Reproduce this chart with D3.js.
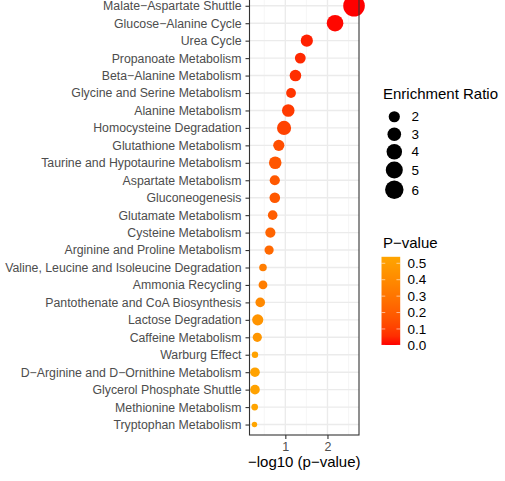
<!DOCTYPE html>
<html>
<head>
<meta charset="utf-8">
<script src="https://cdn.jsdelivr.net/npm/d3@7"></script>
<style>
  html, body { margin: 0; padding: 0; background: #ffffff; }
  svg { display: block; }
  text { font-family: "Liberation Sans", Arial, Helvetica, sans-serif; }
</style>
</head>
<body>
<svg id="chart" width="505" height="481"></svg>
<script>
// Pathway enrichment results, listed from most to least significant
const pathways = [
  "Malate\u2212Aspartate Shuttle",
  "Glucose\u2212Alanine Cycle",
  "Urea Cycle",
  "Propanoate Metabolism",
  "Beta\u2212Alanine Metabolism",
  "Glycine and Serine Metabolism",
  "Alanine Metabolism",
  "Homocysteine Degradation",
  "Glutathione Metabolism",
  "Taurine and Hypotaurine Metabolism",
  "Aspartate Metabolism",
  "Gluconeogenesis",
  "Glutamate Metabolism",
  "Cysteine Metabolism",
  "Arginine and Proline Metabolism",
  "Valine, Leucine and Isoleucine Degradation",
  "Ammonia Recycling",
  "Pantothenate and CoA Biosynthesis",
  "Lactose Degradation",
  "Caffeine Metabolism",
  "Warburg Effect",
  "D\u2212Arginine and D\u2212Ornithine Metabolism",
  "Glycerol Phosphate Shuttle",
  "Methionine Metabolism",
  "Tryptophan Metabolism"
];

// -log10(p-value) for each pathway
const negLog10P = [
  2.63, 2.18, 1.51, 1.355, 1.24, 1.135, 1.07, 0.97, 0.845, 0.76,
  0.75, 0.75, 0.70, 0.645, 0.615, 0.47, 0.47, 0.405, 0.345, 0.335,
  0.28, 0.28, 0.28, 0.273, 0.268
];

// Enrichment ratio for each pathway
const enrichment = [
  8.7, 4.7, 2.36, 1.87, 2.14, 1.59, 2.52, 3.25, 2.0, 2.52,
  1.69, 1.81, 1.54, 1.69, 1.44, 1.16, 1.36, 1.54, 2.0, 1.44,
  1.05, 1.54, 1.54, 1.07, 1.02
];

// Legend entries
const sizeBreaks = [2, 3, 4, 5, 6];
const pBreaks = [0.0, 0.1, 0.2, 0.3, 0.4, 0.5];
const xTicks = [1, 2];
const xMinorTicks = [0.5, 1.5, 2.5];

const rows = pathways.map((name, i) => ({
  name,
  x: negLog10P[i],
  p: Math.pow(10, -negLog10P[i]),
  er: enrichment[i]
}));

const svg = d3.select("#chart");
svg.append("rect").attr("width", 505).attr("height", 481).attr("fill", "#ffffff");

// Panel geometry
const panel = { left: 249.5, right: 359, top: -4.7, bottom: 435 };

// x scale with 5% expansion on each side
const xExt = d3.extent(rows, d => d.x);
const xPad = (xExt[1] - xExt[0]) * 0.05;
const x = d3.scaleLinear()
  .domain([xExt[0] - xPad, xExt[1] + xPad])
  .range([panel.left, panel.right]);

// discrete y scale, 0.6 step of padding at each end
const y = d3.scalePoint()
  .domain(pathways)
  .range([panel.top, panel.bottom])
  .padding(0.6);

// point radius: area grows with the enrichment ratio
const erMin = d3.min(rows, d => d.er), erMax = d3.max(rows, d => d.er);
const rLin = d3.scaleLinear()
  .domain([0, Math.sqrt(erMax - erMin)])
  .range([2.7, 10.8]);
const radius = v => rLin(Math.sqrt(Math.max(0, v - erMin)));

// colour: red (small p) to orange (large p)
const pExt = d3.extent(rows, d => d.p);
const color = d3.scaleLinear()
  .domain(pExt)
  .range(["red", "orange"])
  .interpolate(d3.interpolateLab);

// Grid
const grid = svg.append("g");
grid.selectAll("line.minor")
  .data(xMinorTicks.filter(t => t > x.domain()[0] && t < x.domain()[1]))
  .join("line")
  .attr("x1", d => x(d)).attr("x2", d => x(d))
  .attr("y1", panel.top).attr("y2", panel.bottom)
  .attr("stroke", "#F2F2F2").attr("stroke-width", 0.7);
grid.selectAll("line.majorx")
  .data(xTicks)
  .join("line")
  .attr("x1", d => x(d)).attr("x2", d => x(d))
  .attr("y1", panel.top).attr("y2", panel.bottom)
  .attr("stroke", "#EBEBEB").attr("stroke-width", 1.4);
grid.selectAll("line.majory")
  .data(pathways)
  .join("line")
  .attr("x1", panel.left).attr("x2", panel.right)
  .attr("y1", d => y(d)).attr("y2", d => y(d))
  .attr("stroke", "#EBEBEB").attr("stroke-width", 1.4);

// Points
svg.append("g")
  .selectAll("circle")
  .data(rows)
  .join("circle")
  .attr("cx", d => x(d.x))
  .attr("cy", d => y(d.name))
  .attr("r", d => radius(d.er))
  .attr("fill", d => color(d.p));

// Panel border
svg.append("rect")
  .attr("x", panel.left).attr("y", panel.top)
  .attr("width", panel.right - panel.left)
  .attr("height", panel.bottom - panel.top)
  .attr("fill", "none").attr("stroke", "#333333").attr("stroke-width", 1.1);

// y axis
const yAxis = svg.append("g")
  .attr("transform", `translate(${panel.left},0)`)
  .call(d3.axisLeft(y).tickSize(4).tickPadding(4));
yAxis.select(".domain").remove();
yAxis.selectAll(".tick line").attr("stroke", "#333333").attr("stroke-width", 1.1);
yAxis.selectAll(".tick text")
  .attr("fill", "#4D4D4D")
  .style("font-size", "12.3px")
  .style("font-family", "'Liberation Sans', Arial, sans-serif");

// x axis
const xAxis = svg.append("g")
  .attr("transform", `translate(0,${panel.bottom})`)
  .call(d3.axisBottom(x).tickValues(xTicks).tickFormat(d3.format("d")).tickSize(4).tickPadding(3));
xAxis.select(".domain").remove();
xAxis.selectAll(".tick line").attr("stroke", "#333333").attr("stroke-width", 1.1);
xAxis.selectAll(".tick text")
  .attr("fill", "#4D4D4D")
  .style("font-size", "12.5px")
  .style("font-family", "'Liberation Sans', Arial, sans-serif");

svg.append("text")
  .attr("x", (panel.left + panel.right) / 2)
  .attr("y", 467)
  .attr("text-anchor", "middle")
  .attr("fill", "#000000")
  .style("font-size", "15px")
  .text("\u2212log10 (p\u2212value)");

// Size legend
const sizeLeg = svg.append("g");
sizeLeg.append("text")
  .attr("x", 383).attr("y", 99)
  .attr("fill", "#000000")
  .style("font-size", "15px")
  .text("Enrichment Ratio");
let cy = 108;
sizeBreaks.forEach(v => {
  const r = radius(v);
  const h = Math.max(17.5, 2 * r + 2);
  const c = cy + h / 2;
  sizeLeg.append("circle")
    .attr("cx", 394.3).attr("cy", c).attr("r", r).attr("fill", "#000000");
  sizeLeg.append("text")
    .attr("x", 411.5).attr("y", c)
    .attr("dy", "0.35em")
    .attr("fill", "#000000")
    .style("font-size", "13.5px")
    .text(d3.format("d")(v));
  cy += h;
});

// Colour legend
const colLeg = svg.append("g");
colLeg.append("text")
  .attr("x", 383).attr("y", 247.7)
  .attr("fill", "#000000")
  .style("font-size", "15px")
  .text("P\u2212value");

const bar = { x: 381.5, w: 18.7, top: 256.8, bottom: 345 };
const barY = d3.scaleLinear().domain(pExt).range([bar.bottom, bar.top]);
const defs = svg.append("defs");
const grad = defs.append("linearGradient")
  .attr("id", "pgrad")
  .attr("x1", 0).attr("y1", 1).attr("x2", 0).attr("y2", 0);
d3.range(0, 1.0001, 0.1).forEach(t => {
  grad.append("stop")
    .attr("offset", t)
    .attr("stop-color", color(pExt[0] + t * (pExt[1] - pExt[0])));
});
colLeg.append("rect")
  .attr("x", bar.x).attr("y", bar.top)
  .attr("width", bar.w).attr("height", bar.bottom - bar.top)
  .attr("fill", "url(#pgrad)");
const tickLen = bar.w / 5;
pBreaks.filter(b => b >= pExt[0] - 0.01 && b <= pExt[1]).forEach(b => {
  const yy = barY(b);
  colLeg.append("line")
    .attr("x1", bar.x).attr("x2", bar.x + tickLen)
    .attr("y1", yy).attr("y2", yy)
    .attr("stroke", "#ffffff").attr("stroke-opacity", 0.7).attr("stroke-width", 0.8);
  colLeg.append("line")
    .attr("x1", bar.x + bar.w - tickLen).attr("x2", bar.x + bar.w)
    .attr("y1", yy).attr("y2", yy)
    .attr("stroke", "#ffffff").attr("stroke-opacity", 0.7).attr("stroke-width", 0.8);
  colLeg.append("text")
    .attr("x", 407.5).attr("y", yy)
    .attr("dy", "0.35em")
    .attr("fill", "#000000")
    .style("font-size", "13.5px")
    .text(d3.format(".1f")(b));
});
</script>
</body>
</html>
